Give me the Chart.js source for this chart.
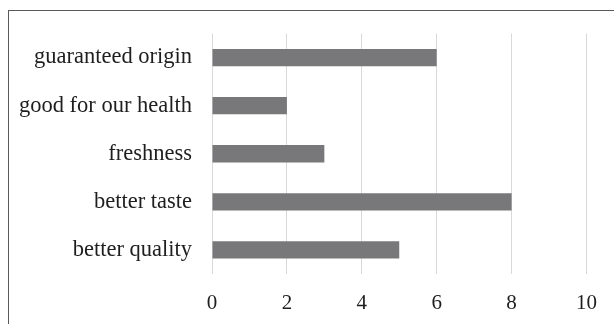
<!DOCTYPE html>
<html>
<head>
<meta charset="utf-8">
<script src="https://cdn.jsdelivr.net/npm/chart.js@4/dist/chart.umd.min.js"></script>
<style>
  html, body { margin: 0; padding: 0; background: #fff; }
  #wrap { position: relative; width: 614px; height: 324px; overflow: hidden; }
  #frame {
    position: absolute; left: 8px; top: 10px; width: 700px; height: 400px;
    border-left: 1px solid #5a5a5a; border-top: 1px solid #5a5a5a;
    box-sizing: border-box; pointer-events: none;
  }
  canvas { position: absolute; left: 0; top: 0; }
</style>
</head>
<body>
<div id="wrap">
  <canvas id="chart" width="614" height="324"></canvas>
  <div id="frame"></div>
</div>
<script>
// datos del gráfico
const categorias = ['guaranteed origin', 'good for our health', 'freshness', 'better taste', 'better quality'];
const valores = [6, 2, 3, 8, 5];
const ejeMin = 0;
const ejeMax = 10;
const paso = 2;

const fuente = "'Liberation Serif', 'Times New Roman', serif";

new Chart(document.getElementById('chart'), {
    type: 'bar',
    data: {
        labels: categorias,
        datasets: [{
            data: valores,
            backgroundColor: '#78787b',
            borderWidth: 0,
            categoryPercentage: 1,
            barPercentage: 0.36
        }]
    },
    options: {
        indexAxis: 'y',
        responsive: false,
        animation: false,
        layout: { padding: { top: 33, right: 27, left: 0, bottom: 0 } },
        plugins: {
            legend: { display: false },
            tooltip: { enabled: false }
        },
        scales: {
            x: {
                min: ejeMin,
                max: ejeMax,
                ticks: {
                    stepSize: paso,
                    color: '#1e1e1e',
                    font: { family: fuente, size: 21 },
                    padding: 17
                },
                grid: { color: '#d9d9d9', lineWidth: 1, drawTicks: false },
                border: { display: false },
                afterFit: (s) => { s.height = 50; }
            },
            y: {
                ticks: {
                    color: '#1e1e1e',
                    font: { family: fuente, size: 22.5 },
                    padding: 20
                },
                grid: { display: false, drawTicks: false },
                border: { display: false },
                afterFit: (s) => { s.width = 212; }
            }
        }
    }
});
</script>
</body>
</html>
